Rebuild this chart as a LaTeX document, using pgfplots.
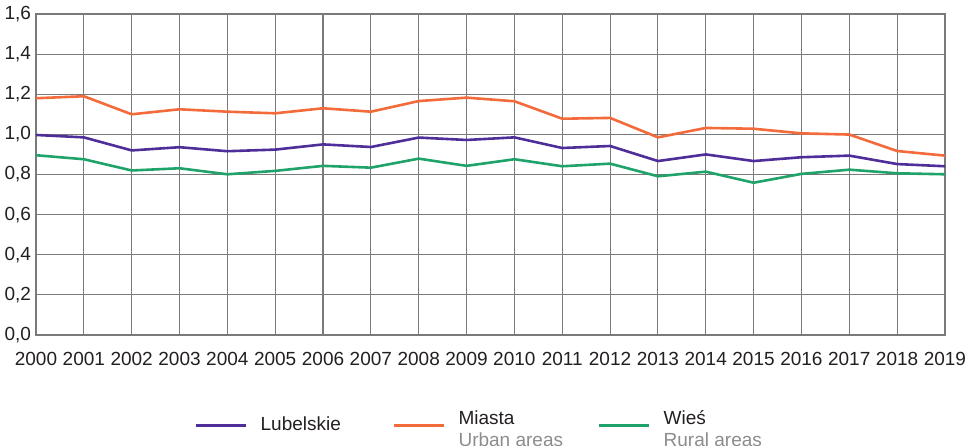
\documentclass[border=0pt]{standalone}
\usepackage{pgfplots}
\pgfplotsset{compat=1.18}
\usepackage{fontspec}
\setmainfont{Liberation Sans}
\definecolor{lub}{HTML}{4F2E99}
\definecolor{mia}{HTML}{F36B3B}
\definecolor{wie}{HTML}{20A36B}
\definecolor{gridc}{HTML}{7A7A7A}
\definecolor{subt}{HTML}{8C8C8C}
\definecolor{txt}{HTML}{231F20}
\newcommand{\twoline}[2]{\begin{tabular}{@{}l@{}}#1\\[0.5pt]\color{subt}#2\end{tabular}}
\newcommand{\oneline}[1]{\begin{tabular}{@{}l@{}}#1\end{tabular}}
\begin{document}
\begin{tikzpicture}
\begin{axis}[
    name=ax,
    scale only axis,
    width=454.5pt, height=160.5pt,
    xmin=2000, xmax=2019, ymin=0, ymax=1.6,
    xtick={2000,...,2019},
    ytick={0,0.2,...,1.6},
    grid=major,
    grid style={gridc, line width=0.55pt},
    axis line style={gridc, line width=0.6pt},
    tick style={draw=none},
    font=\fontsize{9.5}{10.5}\selectfont,
    tick label style={txt},
    /pgf/number format/assume math mode=true,
    x tick label style={/pgf/number format/set thousands separator={}, yshift=-5pt},
    y tick label style={/pgf/number format/use comma, /pgf/number format/fixed,
        /pgf/number format/fixed zerofill, /pgf/number format/precision=1, xshift=1pt},
    legend style={at={(0.489,-0.207)}, anchor=north, draw=none, fill=none,
        legend columns=3, font=\fontsize{9.5}{10.5}\selectfont, text=txt,
        /tikz/column 2/.style={column sep=24pt},
        /tikz/column 4/.style={column sep=15.5pt}},
    legend cell align=left,
    legend image code/.code={\draw[#1] (0pt,-0.5pt) -- (25pt,-0.5pt);
        \path (29.5pt,0pt);},
]
\addplot[lub, line width=1.3pt] coordinates {
(2000,0.997) (2001,0.985) (2002,0.920) (2003,0.936) (2004,0.916)
(2005,0.924) (2006,0.950) (2007,0.937) (2008,0.984) (2009,0.972)
(2010,0.985) (2011,0.932) (2012,0.942) (2013,0.867) (2014,0.900)
(2015,0.867) (2016,0.886) (2017,0.894) (2018,0.852) (2019,0.841)};
\addlegendentry{\oneline{Lubelskie}}
\addplot[mia, line width=1.3pt] coordinates {
(2000,1.180) (2001,1.190) (2002,1.100) (2003,1.125) (2004,1.113)
(2005,1.105) (2006,1.130) (2007,1.113) (2008,1.166) (2009,1.183)
(2010,1.165) (2011,1.078) (2012,1.082) (2013,0.985) (2014,1.032)
(2015,1.028) (2016,1.005) (2017,0.999) (2018,0.917) (2019,0.894)};
\addlegendentry{\twoline{Miasta}{Urban areas}}
\addplot[wie, line width=1.3pt] coordinates {
(2000,0.896) (2001,0.876) (2002,0.820) (2003,0.831) (2004,0.801)
(2005,0.818) (2006,0.843) (2007,0.834) (2008,0.879) (2009,0.843)
(2010,0.876) (2011,0.841) (2012,0.854) (2013,0.791) (2014,0.814)
(2015,0.759) (2016,0.803) (2017,0.824) (2018,0.806) (2019,0.801)};
\addlegendentry{\twoline{Wieś}{Rural areas}}
\end{axis}
\pgfresetboundingbox
\path ([shift={(-18pt,-55.5pt)}]ax.south west) rectangle ([shift={(14.5pt,7pt)}]ax.north east);
\end{tikzpicture}
\end{document}
